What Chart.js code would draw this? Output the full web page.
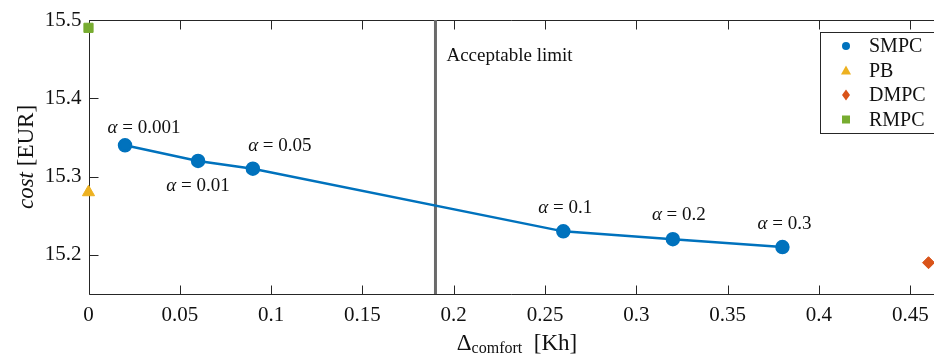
<!DOCTYPE html>
<html lang="en">
<head>
    <meta charset="UTF-8">
    <title>Cost vs comfort</title>
    <style>
        html, body { margin: 0; padding: 0; background: #fff; }
        .chart-container { position: relative; width: 934px; height: 359px; }
    </style>
</head>
<body>
    <div class="chart-container">
        <canvas id="costChart"></canvas>
    </div>

    <script src="https://cdn.jsdelivr.net/npm/chart.js@4"></script>
    <script>
        // SMPC trade-off curve (one point per alpha)
        const smpcComfort = [0.02, 0.06, 0.09, 0.26, 0.32, 0.38];
        const smpcCost = [15.34, 15.32, 15.31, 15.23, 15.22, 15.21];
        const smpcAlpha = ['0.001', '0.01', '0.05', '0.1', '0.2', '0.3'];

        // the other controllers: [comfort, cost]
        const pbPoint = [0, 15.28];
        const dmpcPoint = [0.46, 15.19];
        const rmpcPoint = [0, 15.49];

        const acceptableLimit = 0.19;
        const limitLabel = 'Acceptable limit';

        const legendNames = ['SMPC', 'PB', 'DMPC', 'RMPC'];

        const xTicks = [0, 0.05, 0.1, 0.15, 0.2, 0.25, 0.3, 0.35, 0.4, 0.45];
        const xTickLabels = ['0', '0.05', '0.1', '0.15', '0.2', '0.25', '0.3', '0.35', '0.4', '0.45'];
        const yTicks = [15.2, 15.3, 15.4, 15.5];
        const yTickLabels = ['15.2', '15.3', '15.4', '15.5'];
        const xRange = [0, 0.463];
        const yRange = [15.15, 15.5];

        const SERIF = "'Liberation Serif', 'Times New Roman', serif";
        const AXIS = '#262626';
        const colors = { SMPC: '#0072BD', PB: '#EDB120', DMPC: '#D95319', RMPC: '#77AC30' };

        // where each alpha label sits relative to its point (dx to text centre, dy to baseline)
        const alphaLabelOffsets = [[19, -12], [0, 30], [27, -18], [2, -18], [6, -19], [2, -18]];

        const pt = (a) => ({ x: a[0], y: a[1] });

        // axes box with inside ticks (the right side is cropped off in the original)
        const framePlugin = {
            id: 'frame',
            beforeDatasetsDraw(chart) {
                const { ctx, chartArea: a, scales: { x, y } } = chart;
                const t = 9;
                const L = Math.round(a.left) + 0.5, T = Math.round(a.top) + 0.5, B = Math.round(a.bottom) + 0.5;
                ctx.save();
                ctx.strokeStyle = AXIS;
                ctx.lineWidth = 1;
                ctx.beginPath();
                ctx.moveTo(a.right, T); ctx.lineTo(L, T); ctx.lineTo(L, B); ctx.lineTo(a.right, B);
                xTicks.forEach(v => {
                    const px = Math.round(x.getPixelForValue(v)) + 0.5;
                    ctx.moveTo(px, B); ctx.lineTo(px, B - t);
                    ctx.moveTo(px, T); ctx.lineTo(px, T + t);
                });
                yTicks.forEach(v => {
                    const py = Math.round(y.getPixelForValue(v)) + 0.5;
                    ctx.moveTo(L, py); ctx.lineTo(L + t, py);
                });
                ctx.stroke();
                ctx.restore();
            }
        };

        function mathLabel(ctx, value, cx, baseline, size) {
            // "α = value" with an italic alpha, centred on cx
            const rest = ' = ' + value;
            ctx.font = 'italic ' + size + 'px ' + SERIF;
            const wA = ctx.measureText('α').width;
            ctx.font = size + 'px ' + SERIF;
            const wR = ctx.measureText(rest).width;
            let x0 = cx - (wA + wR) / 2;
            ctx.font = 'italic ' + size + 'px ' + SERIF;
            ctx.fillText('α', x0, baseline);
            ctx.font = size + 'px ' + SERIF;
            ctx.fillText(rest, x0 + wA, baseline);
        }

        function legendMarker(ctx, name, x, y) {
            ctx.fillStyle = colors[name];
            ctx.beginPath();
            if (name === 'SMPC') {
                ctx.arc(x, y, 4, 0, Math.PI * 2);
            } else if (name === 'PB') {
                ctx.moveTo(x, y - 5); ctx.lineTo(x + 5, y + 4); ctx.lineTo(x - 5, y + 4);
            } else if (name === 'DMPC') {
                ctx.moveTo(x, y - 5.5); ctx.lineTo(x + 4, y); ctx.lineTo(x, y + 5.5); ctx.lineTo(x - 4, y);
            } else {
                ctx.rect(x - 4, y - 4, 8, 8);
            }
            ctx.closePath();
            ctx.fill();
        }

        const textPlugin = {
            id: 'texts',
            afterDatasetsDraw(chart) {
                const { ctx, chartArea: a, scales: { x, y } } = chart;
                ctx.save();
                ctx.fillStyle = '#111';
                ctx.textBaseline = 'alphabetic';

                // alpha annotations
                smpcAlpha.forEach((v, i) => {
                    const px = x.getPixelForValue(smpcComfort[i]);
                    const py = y.getPixelForValue(smpcCost[i]);
                    const off = alphaLabelOffsets[i];
                    mathLabel(ctx, v, px + off[0], py + off[1], 19);
                });

                // limit label
                ctx.font = '19px ' + SERIF;
                ctx.textAlign = 'left';
                ctx.fillText(limitLabel, x.getPixelForValue(acceptableLimit) + 11, 61);

                // x title: Δ_comfort [Kh]
                ctx.font = '23px ' + SERIF;
                const wD = ctx.measureText('Δ').width;
                ctx.font = '16px ' + SERIF;
                const wSub = ctx.measureText('comfort').width;
                ctx.font = '23px ' + SERIF;
                const wU = ctx.measureText('  [Kh]').width;
                let x0 = 517 - (wD + wSub + wU) / 2;
                const xb = 350;
                ctx.fillText('Δ', x0, xb);
                ctx.font = '16px ' + SERIF;
                ctx.fillText('comfort', x0 + wD, xb + 3);
                ctx.font = '23px ' + SERIF;
                ctx.fillText('  [Kh]', x0 + wD + wSub, xb);

                // y title: cost [EUR]
                ctx.translate(33, (a.top + a.bottom) / 2);
                ctx.rotate(-Math.PI / 2);
                ctx.font = 'italic 23px ' + SERIF;
                const wC = ctx.measureText('cost').width;
                ctx.font = '23px ' + SERIF;
                const wE = ctx.measureText(' [EUR]').width;
                x0 = -(wC + wE) / 2;
                ctx.font = 'italic 23px ' + SERIF;
                ctx.fillText('cost', x0, 0);
                ctx.font = '23px ' + SERIF;
                ctx.fillText(' [EUR]', x0 + wC, 0);
                ctx.restore();

                // legend box inside the axes, top right
                ctx.save();
                ctx.fillStyle = '#fff';
                ctx.strokeStyle = AXIS;
                ctx.lineWidth = 1;
                ctx.fillRect(820.5, 32.5, 130, 101);
                ctx.strokeRect(820.5, 32.5, 130, 101);
                ctx.font = '20px ' + SERIF;
                ctx.textBaseline = 'middle';
                legendNames.forEach((n, i) => {
                    const ly = 46 + i * 24.5;
                    legendMarker(ctx, n, 846, ly);
                    ctx.fillStyle = '#111';
                    ctx.fillText(n, 869, ly + 1);
                });
                ctx.restore();
            }
        };

        new Chart(document.getElementById('costChart'), {
            type: 'scatter',
            data: {
                datasets: [
                    {
                        label: 'SMPC',
                        data: smpcComfort.map((c, i) => ({ x: c, y: smpcCost[i] })),
                        showLine: true,
                        borderColor: colors.SMPC,
                        backgroundColor: colors.SMPC,
                        borderWidth: 2.5,
                        pointRadius: 6,
                        pointHoverRadius: 6,
                        order: 1
                    },
                    {
                        label: 'PB',
                        data: [pt(pbPoint)],
                        pointStyle: 'triangle',
                        backgroundColor: colors.PB,
                        borderColor: colors.PB,
                        pointRadius: 7,
                        clip: false,
                        order: 2
                    },
                    {
                        label: 'DMPC',
                        data: [pt(dmpcPoint)],
                        pointStyle: 'rectRot',
                        backgroundColor: colors.DMPC,
                        borderColor: colors.DMPC,
                        pointRadius: 6,
                        clip: false,
                        order: 2
                    },
                    {
                        label: 'RMPC',
                        data: [pt(rmpcPoint)],
                        pointStyle: 'rect',
                        backgroundColor: colors.RMPC,
                        borderColor: colors.RMPC,
                        pointRadius: 6.5,
                        clip: false,
                        order: 2
                    },
                    {
                        label: limitLabel,
                        data: [{ x: acceptableLimit, y: yRange[0] }, { x: acceptableLimit, y: yRange[1] }],
                        showLine: true,
                        borderColor: '#6a6a6a',
                        borderWidth: 3,
                        pointRadius: 0,
                        order: 3
                    }
                ]
            },
            options: {
                responsive: true,
                maintainAspectRatio: false,
                animation: false,
                layout: { autoPadding: false, padding: { top: 20, right: 0, bottom: 0, left: 0 } },
                plugins: {
                    legend: { display: false },
                    tooltip: { enabled: false }
                },
                scales: {
                    x: {
                        type: 'linear',
                        min: xRange[0],
                        max: xRange[1],
                        grid: { display: false, drawTicks: false },
                        border: { display: false },
                        afterBuildTicks: s => { s.ticks = xTicks.map(v => ({ value: v })); },
                        afterFit: s => { s.height = 65; s.paddingLeft = 0; s.paddingRight = 0; },
                        ticks: {
                            padding: 9,
                            maxRotation: 0,
                            autoSkip: false,
                            color: '#111',
                            font: { family: SERIF, size: 21 },
                            callback: (v, i) => xTickLabels[i]
                        }
                    },
                    y: {
                        type: 'linear',
                        min: yRange[0],
                        max: yRange[1],
                        grid: { display: false, drawTicks: false },
                        border: { display: false },
                        afterBuildTicks: s => { s.ticks = yTicks.map(v => ({ value: v })); },
                        afterFit: s => { s.width = 88.5; s.paddingTop = 0; s.paddingBottom = 0; },
                        ticks: {
                            padding: 7,
                            autoSkip: false,
                            color: '#111',
                            font: { family: SERIF, size: 21 },
                            callback: (v, i) => yTickLabels[i]
                        }
                    }
                }
            },
            plugins: [framePlugin, textPlugin]
        });
    </script>
</body>
</html>
